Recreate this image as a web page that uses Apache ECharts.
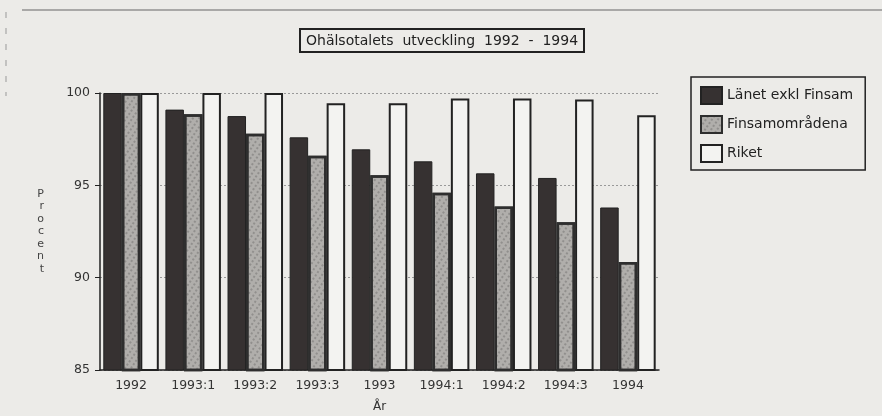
<!DOCTYPE html>
<html>
<head>
<meta charset="utf-8">
<script src="https://cdn.jsdelivr.net/npm/echarts@6/dist/echarts.min.js"></script>
<style>
  html, body { margin: 0; padding: 0; background: #ecebe8; }
  #chart { width: 882px; height: 416px; }
</style>
</head>
<body>
<div id="chart"></div>
<script>
// Period labels along the x axis
const periods = ['1992', '1993:1', '1993:2', '1993:3', '1993', '1994:1', '1994:2', '1994:3', '1994'];

// Index values, 1992 = 100
const lanetExklFinsam = [100, 99.1, 98.75, 97.6, 96.95, 96.3, 95.65, 95.4, 93.8];
const finsamomradena = [100, 98.85, 97.8, 96.6, 95.55, 94.6, 93.85, 93.0, 90.85];
const riket = [100, 100, 100, 99.45, 99.45, 99.7, 99.7, 99.65, 98.8];

const yTicks = [85, 90, 95, 100];

const chart = echarts.init(document.getElementById('chart'));

const labelFont = 'DejaVu Sans, Liberation Sans, sans-serif';

const option = {
    backgroundColor: '#ecebe8',
    animation: false,
    textStyle: { fontFamily: labelFont },
    title: {
        text: 'Ohälsotalets  utveckling  1992  -  1994',
        left: 300,
        top: 29,
        padding: [5, 6, 4, 6],
        borderColor: '#222',
        borderWidth: 2,
        textStyle: {
            fontFamily: labelFont,
            fontSize: 14,
            fontWeight: 'normal',
            color: '#222',
        },
    },
    legend: {
        orient: 'vertical',
        left: 691,
        top: 77,
        padding: [9, 12, 7, 9],
        borderColor: '#222',
        borderWidth: 1.5,
        icon: 'rect',
        itemWidth: 21,
        itemHeight: 17,
        itemGap: 10,
        textStyle: { fontSize: 14, color: '#222', fontFamily: labelFont },
        data: ['Länet exkl Finsam', 'Finsamområdena', 'Riket'],
    },
    grid: {
        left: 100,
        right: 223,
        top: 93,
        bottom: 46,
        outerBoundsMode: 'none',
    },
    xAxis: {
        type: 'category',
        data: periods,
        name: 'År',
        nameLocation: 'middle',
        nameGap: 31,
        nameTextStyle: { fontSize: 12, color: '#333' },
        axisLine: { lineStyle: { color: '#222', width: 1.5 } },
        axisTick: { length: 6, lineStyle: { color: '#222', width: 1.5 } },
        axisLabel: { fontSize: 12.5, color: '#333', margin: 9 },
    },
    yAxis: {
        type: 'value',
        min: 85,
        max: 100,
        interval: 5,
        name: 'P\nr\no\nc\ne\nn\nt',
        nameLocation: 'middle',
        nameRotate: 0,
        nameGap: 56,
        nameTextStyle: { fontSize: 11, color: '#444', lineHeight: 12.5 },
        axisLine: { show: true, lineStyle: { color: '#222', width: 1.5 } },
        axisTick: { show: true, length: 5, lineStyle: { color: '#222' } },
        axisLabel: {
            fontSize: 12.5,
            color: '#333',
            margin: 10,
            formatter: (v) => (yTicks.includes(v) ? String(v) : ''),
        },
        splitLine: {
            show: true,
            lineStyle: { color: '#999', type: [2, 2], width: 1 },
        },
    },
    series: [
        {
            name: 'Länet exkl Finsam',
            type: 'bar',
            data: lanetExklFinsam,
            barWidth: 18.5,
            barGap: '0%',
            itemStyle: { color: '#363131', borderColor: '#222', borderWidth: 1 },
        },
        {
            name: 'Finsamområdena',
            type: 'bar',
            data: finsamomradena,
            barWidth: 18.5,
            barGap: '0%',
            itemStyle: {
                color: '#b0aeab',
                borderColor: '#2e2e2e',
                borderWidth: 2.5,
                decal: {
                    symbol: 'rect',
                    symbolSize: 0.7,
                    color: 'rgba(60,60,60,0.5)',
                    dashArrayX: [2, 3],
                    dashArrayY: [2, 2],
                    rotation: 0.6,
                },
            },
        },
        {
            name: 'Riket',
            type: 'bar',
            data: riket,
            barWidth: 18.5,
            barGap: '0%',
            itemStyle: { color: '#f3f3f1', borderColor: '#222', borderWidth: 2 },
        },
    ],
    graphic: [
        {
            type: 'line',
            shape: { x1: 22, y1: 10, x2: 882, y2: 10 },
            style: { stroke: '#666', lineWidth: 1.2 },
        },
        {
            type: 'line',
            shape: { x1: 6, y1: 12, x2: 6, y2: 96 },
            style: { stroke: '#999', lineWidth: 1, lineDash: [6, 10] },
        },
    ],
};

chart.setOption(option);
</script>
</body>
</html>
